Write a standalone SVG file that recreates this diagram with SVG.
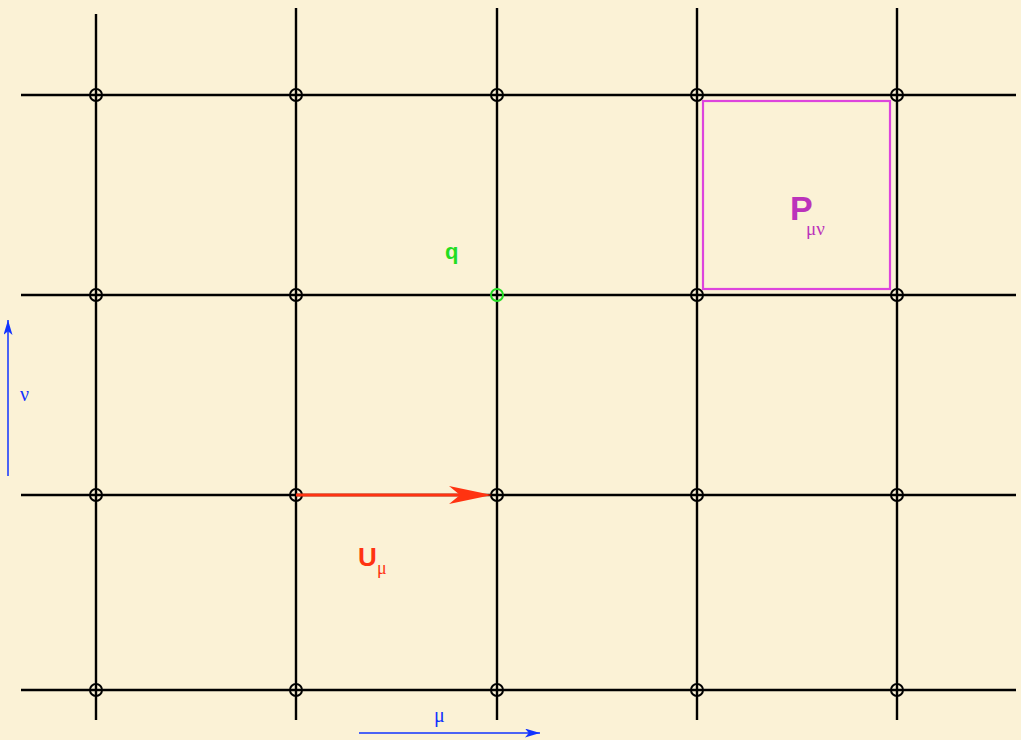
<svg xmlns="http://www.w3.org/2000/svg" width="1021" height="740" viewBox="0 0 1021 740">
<defs>
<style>
.g{stroke:#000;stroke-width:2.4;fill:none}
.n{stroke:#000;stroke-width:2;fill:none}
.lbl{font-family:"Liberation Sans",Arial,sans-serif;font-weight:bold}
.gr{font-family:"Liberation Serif","Times New Roman",serif}
</style>
<marker id="ab" viewBox="0 0 10 10" refX="10" refY="5" markerWidth="15" markerHeight="9" orient="auto" markerUnits="userSpaceOnUse" preserveAspectRatio="none">
<path d="M0,0 L10,5 L0,10 L2.5,5 Z" fill="#1133ff"/>
</marker>
</defs>
<rect width="1021" height="740" fill="#FBF2D6"/>
<g id="grid">
<line class="g" x1="96" y1="14" x2="96" y2="720"/>
<line class="g" x1="296" y1="8" x2="296" y2="720"/>
<line class="g" x1="497" y1="8" x2="497" y2="720"/>
<line class="g" x1="697" y1="8" x2="697" y2="720"/>
<line class="g" x1="897" y1="8" x2="897" y2="720"/>
<line class="g" x1="21" y1="95" x2="1016" y2="95"/>
<line class="g" x1="21" y1="295" x2="1016" y2="295"/>
<line class="g" x1="21" y1="495" x2="1016" y2="495"/>
<line class="g" x1="21" y1="690" x2="1016" y2="690"/>
</g>
<g id="nodes">
<circle class="n" cx="96" cy="95" r="6"/><circle class="n" cx="296" cy="95" r="6"/><circle class="n" cx="497" cy="95" r="6"/><circle class="n" cx="697" cy="95" r="6"/><circle class="n" cx="897" cy="95" r="6"/>
<circle class="n" cx="96" cy="295" r="6"/><circle class="n" cx="296" cy="295" r="6"/><circle cx="497" cy="295" r="6" fill="none" stroke="#22dd22" stroke-width="2"/><circle class="n" cx="697" cy="295" r="6"/><circle class="n" cx="897" cy="295" r="6"/>
<circle class="n" cx="96" cy="495" r="6"/><circle class="n" cx="296" cy="495" r="6"/><circle class="n" cx="497" cy="495" r="6"/><circle class="n" cx="697" cy="495" r="6"/><circle class="n" cx="897" cy="495" r="6"/>
<circle class="n" cx="96" cy="690" r="6"/><circle class="n" cx="296" cy="690" r="6"/><circle class="n" cx="497" cy="690" r="6"/><circle class="n" cx="697" cy="690" r="6"/><circle class="n" cx="897" cy="690" r="6"/>
</g>
<g id="plaquette">
<rect x="703" y="101" width="187" height="188" fill="none" stroke="#DD44DD" stroke-width="2.2"/>
<text x="790" y="220" class="lbl" font-size="34" fill="#BB33BB">P</text>
<text x="806" y="235" class="gr" font-size="19" fill="#BB33BB">μν</text>
</g>
<g id="quark">
<text x="445" y="259" class="lbl" font-size="22" fill="#22dd22">q</text>
</g>
<g id="link">
<line x1="296" y1="495" x2="465" y2="495" stroke="#FF3311" stroke-width="3"/>
<path d="M492,495 L449,486 L460,495 L449,504 Z" fill="#FF3311"/>
<text x="358" y="566" class="lbl" font-size="26" fill="#FF3311">U</text>
<text x="377" y="574" class="gr" font-size="18" fill="#FF3311">μ</text>
</g>
<g id="connectors">
<line x1="359" y1="733" x2="540" y2="733" stroke="#1133ff" stroke-width="1.5" marker-end="url(#ab)"/>
<line x1="8" y1="476" x2="8" y2="320" stroke="#1133ff" stroke-width="1.5" marker-end="url(#ab)"/>
</g>
<g id="axes-labels">
<text x="434" y="722" class="gr" font-size="20" fill="#1133ff">μ</text>
<text x="20" y="401" class="gr" font-size="20" fill="#1133ff">ν</text>
</g>
</svg>
